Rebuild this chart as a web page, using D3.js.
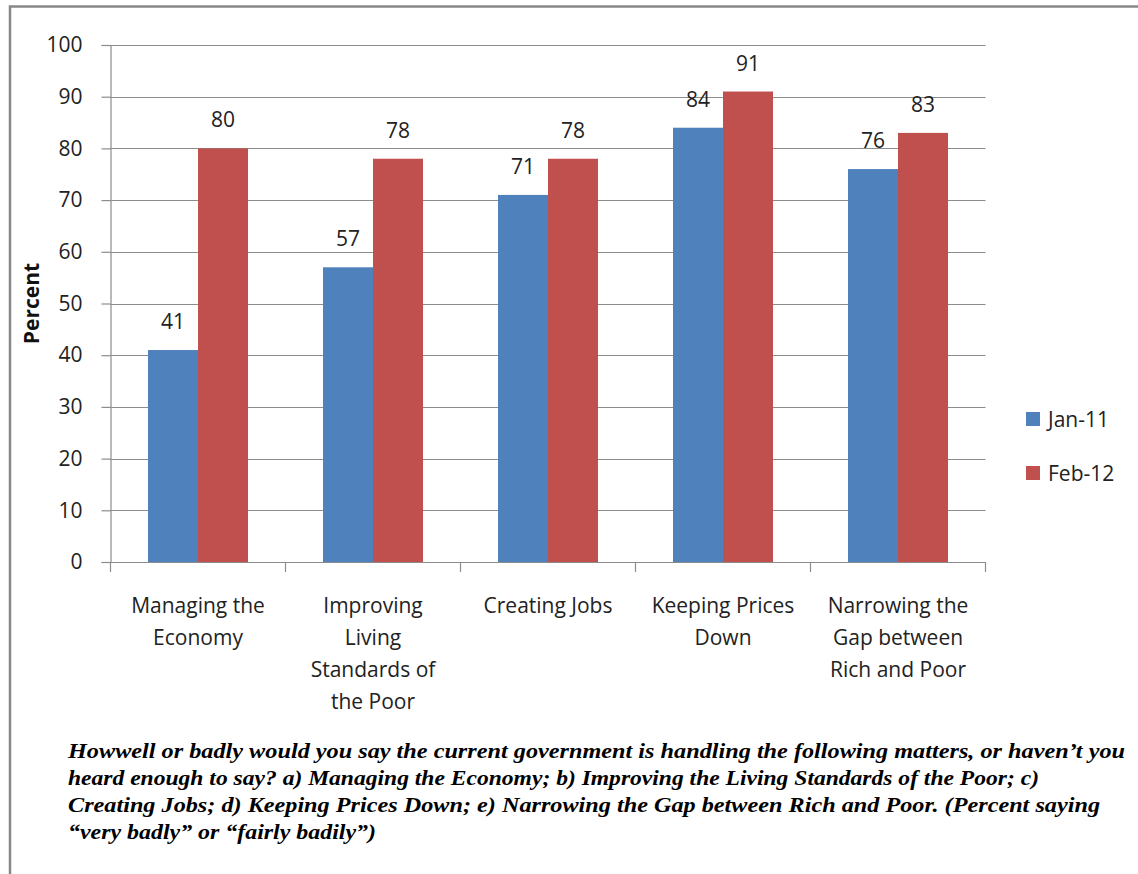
<!DOCTYPE html>
<html><head><meta charset="utf-8">
<script src="https://cdn.jsdelivr.net/npm/d3@7"></script>
<style>body{margin:0;background:#fff}svg{display:block}</style>
</head><body>
<svg id="c" width="1138" height="874"></svg>
<script>
const categories = [
  ["Managing the","Economy"],
  ["Improving","Living","Standards of","the Poor"],
  ["Creating Jobs"],
  ["Keeping Prices","Down"],
  ["Narrowing the","Gap between","Rich and Poor"]
];
const seriesNames = ["Jan-11","Feb-12"];
const jan11 = [41,57,71,84,76];
const feb12 = [80,78,78,91,83];
const yTicks = [0,10,20,30,40,50,60,70,80,90,100];
const footLines = [
  "Howwell or badly would you say the current government is handling the following matters, or haven’t you",
  "heard enough to say?   a) Managing the Economy; b) Improving the Living Standards of the Poor; c)",
  "Creating Jobs; d) Keeping Prices  Down; e) Narrowing the Gap between Rich and Poor.  (Percent saying",
  "“very badly” or “fairly badily”)"
];
const colors = ["#4F81BD","#C0504D"];
const font = "'Open Sans', Lato, sans-serif";

const svg = d3.select("#c");
// frame
svg.append("path").attr("d","M10,874 V6.5 H1138").attr("fill","none").attr("stroke","#888").attr("stroke-width",2.5);

const L=110.5, R=985.5, T=45, B=562;
const x = d3.scaleBand().domain(d3.range(5)).range([L,R]).paddingInner(0).paddingOuter(0);
const y = d3.scaleLinear().domain([0,100]).range([B,T]);
const xs = d3.scaleBand().domain([0,1]).range([0,x.bandwidth()]).paddingInner(0).paddingOuter(0.75);

// gridlines
svg.append("g").selectAll("line").data(yTicks.filter(d=>d>0)).join("line")
  .attr("x1",L).attr("x2",R).attr("y1",d=>Math.round(y(d))+0.5).attr("y2",d=>Math.round(y(d))+0.5)
  .attr("stroke","#8c8c8c").attr("stroke-width",1.2);

// y axis
const ya = svg.append("g").attr("transform",`translate(${L},0)`)
  .call(d3.axisLeft(y).tickValues(yTicks).tickSize(9).tickPadding(19));
ya.select(".domain").attr("stroke","#8c8c8c").attr("stroke-width",1.2);
ya.selectAll(".tick line").attr("stroke","#8c8c8c").attr("stroke-width",1.2);
ya.selectAll(".tick text").attr("font-family",font).attr("font-size",21).attr("fill","#222");

// bars
const series = [jan11, feb12];
series.forEach((vals,si)=>{
  const g = svg.append("g");
  g.selectAll("rect").data(vals).join("rect")
    .attr("x",(d,i)=>x(i)+xs(si)).attr("width",xs.bandwidth())
    .attr("y",d=>y(d)).attr("height",d=>B-y(d)).attr("fill",colors[si]);
  g.selectAll("text").data(vals).join("text")
    .attr("x",(d,i)=>x(i)+xs(si)+xs.bandwidth()/2).attr("y",d=>y(d)-21)
    .attr("text-anchor","middle").attr("font-family",font).attr("font-size",21).attr("fill","#222")
    .text(d=>d);
});

// x axis
const xa = svg.append("g").attr("transform",`translate(0,${B})`);
xa.append("line").attr("x1",L).attr("x2",R).attr("y1",0.5).attr("y2",0.5).attr("stroke","#8c8c8c").attr("stroke-width",1.2);
xa.selectAll("line.t").data(d3.range(6)).join("line").attr("class","t")
  .attr("x1",i=>L+i*x.bandwidth()).attr("x2",i=>L+i*x.bandwidth()).attr("y1",0).attr("y2",10)
  .attr("stroke","#8c8c8c").attr("stroke-width",1.2);
xa.selectAll("text").data(categories).join("text")
  .attr("text-anchor","middle").attr("font-family",font).attr("font-size",21).attr("fill","#222")
  .attr("transform",(d,i)=>`translate(${x(i)+x.bandwidth()/2},51)`)
  .selectAll("tspan").data(d=>d).join("tspan").attr("x",0).attr("dy",(d,j)=>j?32:0).text(d=>d);

// y label
svg.append("text").attr("transform",`translate(39,${(T+B)/2}) rotate(-90)`)
  .attr("text-anchor","middle").attr("font-family",font).attr("font-weight","bold").attr("font-size",21).attr("fill","#111")
  .text("Percent");

// legend
const lg = svg.append("g");
seriesNames.forEach((n,i)=>{
  lg.append("rect").attr("x",1026).attr("y",412+i*54).attr("width",14).attr("height",14).attr("fill",colors[i]);
  lg.append("text").attr("x",1048).attr("y",427+i*54).attr("font-family",font).attr("font-size",21).attr("fill","#222").text(n);
});

// footnote
const fn = svg.append("g");
const widths=[1057,971,1032,308];
footLines.forEach((t,i)=>{
  const tx = fn.append("text").attr("x",68).attr("y",758+i*27)
    .attr("font-family","'Liberation Serif','Times New Roman',serif").attr("font-style","italic").attr("font-weight","bold")
    .attr("font-size",20).attr("fill","#000").text(t);
  if(widths[i]) tx.attr("textLength",widths[i]).attr("lengthAdjust","spacingAndGlyphs");
});
</script>
</body></html>
